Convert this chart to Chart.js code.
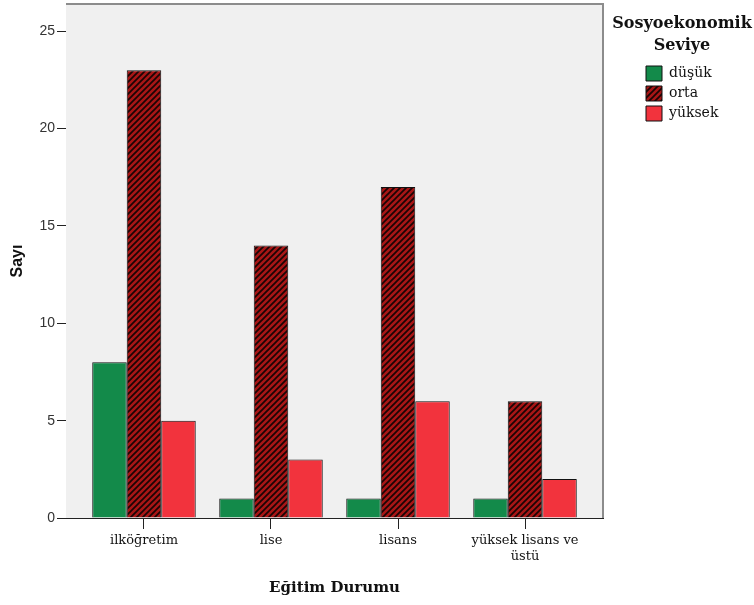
<!DOCTYPE html>
<html>
<head>
<meta charset="utf-8">
<script src="https://cdn.jsdelivr.net/npm/chart.js@4/dist/chart.umd.min.js"></script>
<style>
html,body{margin:0;padding:0;background:#fff;}
#wrap{width:754px;height:605px;}
</style>
</head>
<body>
<div id="wrap"><canvas id="c" width="754" height="605"></canvas></div>
<script>
const CATEGORIES = ['ilköğretim', 'lise', 'lisans', ['yüksek lisans ve', 'üstü']];
const SERIES_NAMES = ['düşük', 'orta', 'yüksek'];
const DUSUK = [8, 1, 1, 1];
const ORTA = [23, 14, 17, 6];
const YUKSEK = [5, 3, 6, 2];
const Y_TICKS = [0, 5, 10, 15, 20, 25];
const X_TITLE = 'Eğitim Durumu';
const Y_TITLE = 'Sayı';
const LEGEND_TITLE = ['Sosyoekonomik', 'Seviye'];

function hatch() {
  const s = 6;
  const c = document.createElement('canvas');
  c.width = s; c.height = s;
  const g = c.getContext('2d');
  g.fillStyle = '#a81616';
  g.fillRect(0, 0, s, s);
  g.strokeStyle = '#1a0505';
  g.lineWidth = 1.7;
  g.beginPath();
  g.moveTo(-1, s + 1); g.lineTo(s + 1, -1);
  g.moveTo(-1, 1); g.lineTo(1, -1);
  g.moveTo(s - 1, s + 1); g.lineTo(s + 1, s - 1);
  g.stroke();
  return g.createPattern(c, 'repeat');
}
const HATCH = hatch();

const toPts = arr => arr.map((v, i) => ({x: i, y: v}));

const bgPlugin = {
  id: 'bg',
  beforeLayout(chart) {
    const lg = chart.legend;
    if (lg && !lg._patched) {
      const f = lg.fit;
      lg.fit = function () { f.call(this); this.width = 82; };
      lg.draw = function () { if (this.options.display) { this._draw(); } };
      lg._patched = true;
    }
  },
  beforeDatasetsDraw(chart) {
    const {ctx, chartArea: a} = chart;
    ctx.save();
    ctx.fillStyle = '#f0f0f0';
    ctx.fillRect(a.left, a.top, a.right - a.left, a.bottom - a.top);
    ctx.strokeStyle = '#8c8c8c';
    ctx.lineWidth = 2;
    ctx.beginPath();
    ctx.moveTo(a.left, a.top);
    ctx.lineTo(a.right, a.top);
    ctx.lineTo(a.right, a.bottom);
    ctx.stroke();
    ctx.restore();
  }
};

const SERIF = "'DejaVu Serif', serif";
const SANS = "'Liberation Sans', Arial, sans-serif";

new Chart(document.getElementById('c'), {
  type: 'bar',
  data: {
    datasets: [
      {label: SERIES_NAMES[0], data: toPts(DUSUK), backgroundColor: '#138a4a', borderColor: '#111', borderWidth: 1},
      {label: SERIES_NAMES[1], data: toPts(ORTA), backgroundColor: HATCH, borderColor: '#111', borderWidth: 1},
      {label: SERIES_NAMES[2], data: toPts(YUKSEK), backgroundColor: '#f2333d', borderColor: '#111', borderWidth: 1}
    ]
  },
  options: {
    responsive: false,
    animation: false,
    layout: {padding: {top: 4, right: 31, bottom: 0, left: 0}},
    datasets: {bar: {categoryPercentage: 0.815, barPercentage: 1.0}},
    plugins: {
      tooltip: {enabled: false},
      legend: {
        position: 'right',
        align: 'start',
        title: {
          display: true,
          text: LEGEND_TITLE,
          color: '#111',
          font: {family: SERIF, size: 16, weight: 'bold', lineHeight: 1.35},
          padding: {top: 12, bottom: 23.4}
        },
        labels: {
          boxWidth: 16,
          boxHeight: 15,
          padding: 5,
          color: '#111',
          font: {family: SERIF, size: 14}
        }
      }
    },
    scales: {
      x: {
        type: 'linear',
        min: -0.614,
        max: 3.614,
        offset: false,
        afterBuildTicks: s => { s.ticks = CATEGORIES.map((_, i) => ({value: i})); },
        afterFit: s => { s.height = 87; },
        ticks: {
          color: '#111',
          font: {family: SERIF, size: 13},
          padding: 4,
          maxRotation: 0,
          autoSkip: false,
          callback: v => CATEGORIES[v]
        },
        grid: {display: true, offset: false, drawOnChartArea: false, drawTicks: true, tickLength: 11, color: '#222'},
        border: {display: true, color: '#222', width: 1},
        title: {
          display: true,
          text: X_TITLE,
          color: '#111',
          font: {family: SERIF, size: 15, weight: 'bold', lineHeight: 1.2},
          padding: {top: 0, bottom: 8}
        }
      },
      y: {
        type: 'linear',
        min: 0,
        max: 26.4,
        afterBuildTicks: s => { s.ticks = Y_TICKS.map(v => ({value: v})); },
        afterFit: s => { s.width = 66; s.paddingTop = 0; s.paddingBottom = 0; },
        ticks: {
          color: '#333',
          font: {family: SANS, size: 14},
          padding: 2
        },
        grid: {display: true, drawOnChartArea: false, drawTicks: true, tickLength: 9, color: '#222'},
        border: {display: true, color: '#222', width: 1},
        title: {
          display: true,
          text: Y_TITLE,
          color: '#111',
          font: {family: SANS, size: 16, weight: 'bold', lineHeight: 1.2},
          padding: {top: 8.4, bottom: 0}
        }
      },
      y2: {
        type: 'linear',
        position: 'right',
        display: true,
        afterFit: s => { s.width = 38; s.paddingTop = 0; s.paddingBottom = 0; },
        ticks: {display: false},
        grid: {display: false},
        border: {display: false}
      }
    }
  },
  plugins: [bgPlugin]
});
</script>
</body>
</html>
